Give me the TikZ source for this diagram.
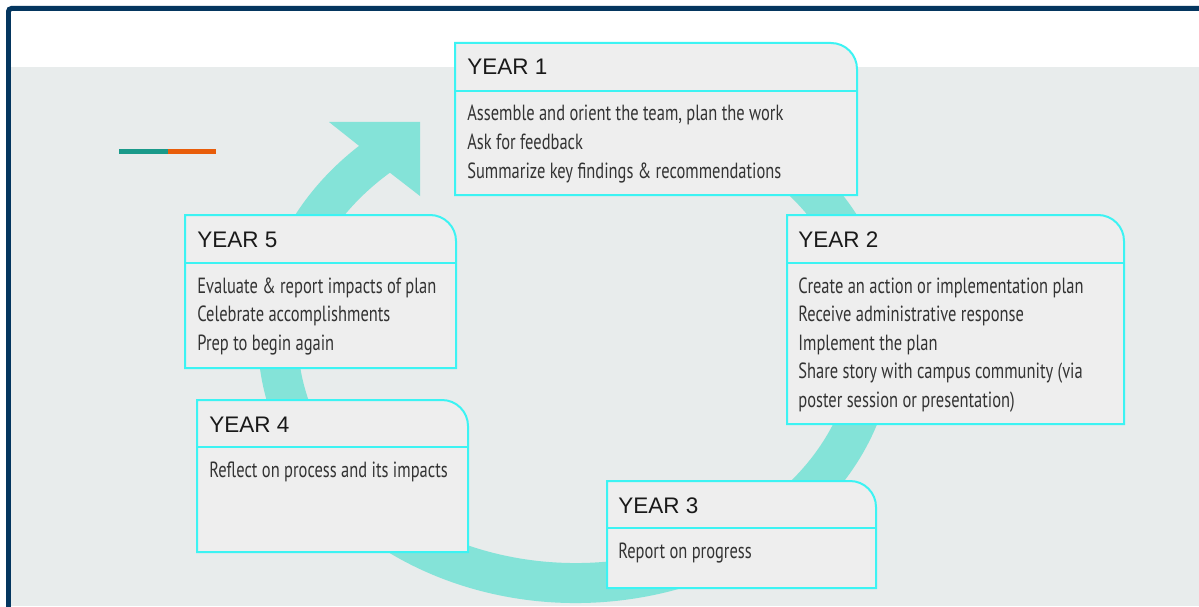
\documentclass[tikz,border=0pt]{standalone}
\usepackage{fontspec}
\setmainfont{Liberation Sans}
\newfontfamily\bodyfont[FakeStretch=0.75]{PT Sans}
\usepackage{tikz}
\definecolor{navy}{HTML}{04365F}
\definecolor{panel}{HTML}{E8ECEC}
\definecolor{ringteal}{HTML}{84E3D8}
\definecolor{boxcyan}{HTML}{3CF3F3}
\definecolor{boxfill}{HTML}{EEEEEE}
\definecolor{darkteal}{HTML}{1A9A8A}
\definecolor{burnt}{HTML}{E85D0A}

\begin{document}
\begin{tikzpicture}[x=0.02cm, y=0.02cm,
	yearbox/.style={draw=boxcyan, fill=boxfill, line width=0.04cm},
	yearrule/.style={draw=boxcyan, line width=0.04cm},
	yearhead/.style={anchor=base west, inner sep=0, font=\fontsize{12.8}{14}\selectfont, text=black!90},
	yearitem/.style={anchor=base west, inner sep=0, font=\bodyfont\fontsize{12.5}{14}\selectfont, text=black!80}]
			\useasboundingbox (0,0) rectangle (1199,606);
			\clip (0,0) rectangle (1199,606);
			\fill[white] (0,0) rectangle (1199,606);
			\fill[panel] (11,0) rectangle (1199,539);
			\draw[navy, line width=0.1cm, rounded corners=0.06cm] (8.5,-20) -- (8.5,597.5) -- (1230,597.5);
			% accent bar
			\draw[darkteal, line width=0.1cm] (119,454.5) -- (168,454.5);
			\draw[burnt, line width=0.1cm] (168,454.5) -- (216,454.5);
			% cycle arrow
			\coordinate (hub) at (576,267);
			\draw[ringteal, line width=0.8cm] (hub) ++(100:298 and 244) arc[start angle=100, end angle=-229, x radius=298, y radius=244];
			\fill[ringteal] (329,484) -- (420,484) -- (420,410) -- (389,434) -- (358,461) -- cycle;
			% year 1
			\draw[yearbox] (455,411) -- (455,563) -- (831,563) arc[start angle=90, end angle=0, radius=26] -- (857,411) -- cycle;
			\draw[yearrule] (455,515) -- (857,515);
			\node[yearhead] (y1) at (467,531) {YEAR 1};
			\foreach \txt [count=\i] in {{Assemble and orient the team, plan the work}, Ask for feedback, Summarize key findings \& recommendations}
				\node[yearitem] (y1item\i) at (467,{485-28.5*(\i-1)}) {\txt};
			% year 2
			\draw[yearbox] (787,182) -- (787,391) -- (1098,391) arc[start angle=90, end angle=0, radius=26] -- (1124,182) -- cycle;
			\draw[yearrule] (787,343) -- (1124,343);
			\node[yearhead] (y2) at (798,359) {YEAR 2};
			\foreach \txt [count=\i] in {Create an action or implementation plan, Receive administrative response, Implement the plan, Share story with campus community (via, poster session or presentation)}
				\node[yearitem] (y2item\i) at (798,{313-28.5*(\i-1)}) {\txt};
			% year 3
			\draw[yearbox] (607,18) -- (607,125) -- (850,125) arc[start angle=90, end angle=0, radius=26] -- (876,18) -- cycle;
			\draw[yearrule] (607,78) -- (876,78);
			\node[yearhead] (y3) at (618,93) {YEAR 3};
			\node[yearitem] (y3item1) at (618,48) {Report on progress};
			% year 4
			\draw[yearbox] (197,54) -- (197,206) -- (442,206) arc[start angle=90, end angle=0, radius=26] -- (468,54) -- cycle;
			\draw[yearrule] (197,159) -- (468,159);
			\node[yearhead] (y4) at (209,174) {YEAR 4};
			\node[yearitem] (y4item1) at (209,129) {Reflect on process and its impacts};
			% year 5
			\draw[yearbox] (185,238) -- (185,391) -- (430,391) arc[start angle=90, end angle=0, radius=26] -- (456,238) -- cycle;
			\draw[yearrule] (185,343) -- (456,343);
			\node[yearhead] (y5) at (197,359) {YEAR 5};
			\foreach \txt [count=\i] in {Evaluate \& report impacts of plan, Celebrate accomplishments, Prep to begin again}
				\node[yearitem] (y5item\i) at (197,{313-28.5*(\i-1)}) {\txt};
\end{tikzpicture}
\end{document}
